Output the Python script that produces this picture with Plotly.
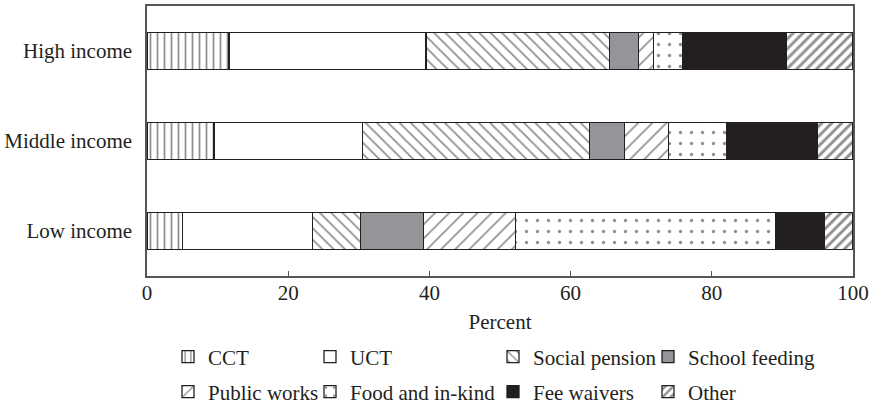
import plotly.graph_objects as go

categories = ["Low income", "Middle income", "High income"]
series_names = ["CCT", "UCT", "Social pension", "School feeding",
                "Public works", "Food and in-kind", "Fee waivers", "Other"]
cct = [5.0, 9.5, 11.6]
uct = [18.4, 21.0, 27.9]
social_pension = [6.8, 32.2, 26.0]
school_feeding = [9.0, 4.9, 4.1]
public_works = [13.0, 6.3, 2.1]
food_inkind = [36.9, 8.2, 4.1]
fee_waivers = [6.9, 12.9, 14.7]
other = [4.0, 5.0, 9.5]
x_ticks = [0, 20, 40, 60, 80, 100]

values = [cct, uct, social_pension, school_feeding, public_works, food_inkind, fee_waivers, other]

LINE = "#231f20"
styles = [
    dict(color="white", pattern=dict(shape="|", size=7, solidity=0.25, fgcolor=LINE, bgcolor="white", fillmode="overlay")),
    dict(color="white"),
    dict(color="white", pattern=dict(shape="\\", size=8, solidity=0.22, fgcolor=LINE, bgcolor="white", fillmode="overlay")),
    dict(color="#939598"),
    dict(color="white", pattern=dict(shape="/", size=10, solidity=0.17, fgcolor=LINE, bgcolor="white", fillmode="overlay")),
    dict(color="white", pattern=dict(shape=".", size=11, solidity=0.07, fgcolor=LINE, bgcolor="white", fillmode="overlay")),
    dict(color=LINE),
    dict(color="white", pattern=dict(shape="/", size=7, solidity=0.42, fgcolor=LINE, bgcolor="white", fillmode="overlay")),
]

FONT = "Liberation Serif"
fnt = dict(family=FONT, size=21, color="#231f20")

# legend column / row placement (pixels)
col_x = [168, 310, 493, 648]
row_y = [357, 392]

fig = go.Figure()
legend_layout = {}
for i, (name, vals, st) in enumerate(zip(series_names, values, styles)):
    key = "legend" if i == 0 else f"legend{i + 1}"
    fig.add_trace(go.Bar(
        y=categories, x=vals, name=name, orientation="h", width=0.41,
        marker=dict(line=dict(color=LINE, width=1.3), **st),
        legend=key, showlegend=True,
    ))
    legend_layout[key] = dict(
        orientation="h", xref="container", yref="container",
        xanchor="left", yanchor="middle", itemwidth=30,
        x=col_x[i % 4] / 871, y=1 - row_y[i // 4] / 406,
        font=fnt, bgcolor="rgba(0,0,0,0)", visible=True,
    )

fig.update_layout(
    barmode="stack",
    showlegend=True,
    width=871, height=406,
    margin=dict(l=147, r=18, t=6, b=130),
    paper_bgcolor="white", plot_bgcolor="white",
    font=fnt,
    **legend_layout,
    xaxis=dict(range=[0, 100], tickvals=x_ticks, ticks="inside", ticklen=5,
               tickcolor="#555", showline=True, linecolor="#555", linewidth=1.5,
               mirror=True, showgrid=False, zeroline=False, automargin=False,
               tickfont=fnt, ticklabelstandoff=-3,
               title=dict(text="Percent", standoff=10, font=fnt)),
    yaxis=dict(showline=True, linecolor="#555", linewidth=1.5, mirror=True,
               showgrid=False, ticks="", ticklabelstandoff=9, automargin=False,
               tickfont=fnt, range=[-0.5, 2.5]),
)

fig.write_html("out.html", config={"displayModeBar": False},
               post_script="document.body.style.margin='0';")
